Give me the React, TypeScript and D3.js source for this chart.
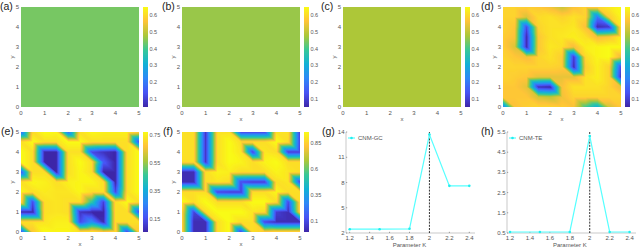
import React, { useRef, useEffect } from "react";
import * as d3 from "d3";

// parula, 8 evenly spaced stops
const parulaStops = [
  [0.2422, 0.1504, 0.6603],
  [0.281, 0.3228, 0.9579],
  [0.1786, 0.5289, 0.9682],
  [0.0689, 0.6948, 0.8394],
  [0.2161, 0.7843, 0.5923],
  [0.672, 0.7793, 0.2227],
  [0.997, 0.7659, 0.2199],
  [0.9769, 0.9839, 0.0805],
].map((c) => d3.rgb(c[0] * 255, c[1] * 255, c[2] * 255));
const parula = d3.piecewise(d3.interpolateRgb, parulaStops);

const gridTicks = [0, 1, 2, 3, 4, 5];

// panels (a)-(c) are flat
const flatA = [[0.44]];
const flatB = [[0.465]];
const flatC = [[0.48]];

// node values on the 0.5 grid, first row is y=5, last row is y=0
const gridD = [
  [0.59, 0.59, 0.58, 0.57, 0.55, 0.51, 0.56, 0.59, 0.59, 0.62, 0.65],
  [0.59, 0.59, 0.53, 0.6, 0.61, 0.59, 0.61, 0.59, 0.2, 0.58, 0.64],
  [0.59, 0.57, 0.12, 0.59, 0.61, 0.61, 0.62, 0.56, 0.06, 0.09, 0.62],
  [0.58, 0.56, 0.06, 0.57, 0.61, 0.62, 0.63, 0.61, 0.55, 0.57, 0.63],
  [0.58, 0.53, 0.06, 0.57, 0.62, 0.61, 0.55, 0.63, 0.64, 0.65, 0.65],
  [0.59, 0.57, 0.55, 0.59, 0.61, 0.58, 0.09, 0.6, 0.64, 0.65, 0.54],
  [0.59, 0.59, 0.59, 0.59, 0.59, 0.58, 0.06, 0.58, 0.63, 0.59, 0.11],
  [0.59, 0.58, 0.57, 0.54, 0.54, 0.54, 0.54, 0.61, 0.63, 0.59, 0.06],
  [0.57, 0.57, 0.54, 0.07, 0.05, 0.56, 0.61, 0.61, 0.61, 0.59, 0.54],
  [0.57, 0.57, 0.57, 0.52, 0.5, 0.55, 0.59, 0.59, 0.59, 0.59, 0.59],
  [0.2, 0.56, 0.58, 0.59, 0.59, 0.58, 0.56, 0.4, 0.3, 0.52, 0.57],
];
const gridE = [
  [0.2, 0.71, 0.77, 0.76, 0.2, 0.72, 0.76, 0.75, 0.75, 0.75, 0.7],
  [0.72, 0.77, 0.72, 0.72, 0.77, 0.77, 0.72, 0.72, 0.72, 0.72, 0.15],
  [0.77, 0.72, 0.06, 0.06, 0.72, 0.72, 0.14, 0.09, 0.06, 0.72, 0.77],
  [0.77, 0.72, 0.06, 0.06, 0.72, 0.77, 0.72, 0.18, 0.06, 0.72, 0.77],
  [0.16, 0.72, 0.72, 0.06, 0.72, 0.76, 0.72, 0.06, 0.06, 0.72, 0.77],
  [0.72, 0.76, 0.75, 0.72, 0.75, 0.76, 0.76, 0.72, 0.06, 0.72, 0.77],
  [0.76, 0.72, 0.74, 0.73, 0.73, 0.76, 0.72, 0.72, 0.14, 0.72, 0.77],
  [0.72, 0.14, 0.72, 0.73, 0.72, 0.72, 0.45, 0.12, 0.72, 0.77, 0.72],
  [0.07, 0.06, 0.72, 0.73, 0.72, 0.09, 0.06, 0.06, 0.72, 0.72, 0.14],
  [0.72, 0.72, 0.73, 0.75, 0.75, 0.14, 0.28, 0.07, 0.72, 0.72, 0.72],
  [0.14, 0.68, 0.77, 0.76, 0.76, 0.72, 0.74, 0.68, 0.73, 0.14, 0.68],
];
const gridF = [
  [0.89, 0.88, 0.05, 0.88, 0.89, 0.09, 0.09, 0.09, 0.89, 0.89, 0.07],
  [0.89, 0.88, 0.05, 0.88, 0.95, 0.88, 0.88, 0.88, 0.95, 0.88, 0.09],
  [0.89, 0.88, 0.05, 0.88, 0.95, 0.9, 0.09, 0.9, 0.88, 0.07, 0.07],
  [0.88, 0.88, 0.05, 0.88, 0.95, 0.93, 0.88, 0.93, 0.95, 0.88, 0.88],
  [0.02, 0.02, 0.88, 0.93, 0.92, 0.88, 0.88, 0.88, 0.93, 0.9, 0.88],
  [0.02, 0.02, 0.88, 0.9, 0.88, 0.1, 0.07, 0.07, 0.88, 0.9, 0.09],
  [0.88, 0.88, 0.88, 0.09, 0.07, 0.07, 0.88, 0.88, 0.94, 0.88, 0.88],
  [0.95, 0.88, 0.95, 0.88, 0.88, 0.88, 0.95, 0.95, 0.88, 0.1, 0.88],
  [0.88, 0.09, 0.88, 0.95, 0.95, 0.95, 0.9, 0.88, 0.07, 0.02, 0.88],
  [0.88, 0.02, 0.02, 0.88, 0.95, 0.88, 0.88, 0.09, 0.02, 0.02, 0.02],
  [0.88, 0.02, 0.02, 0.88, 0.95, 0.09, 0.88, 0.84, 0.88, 0.88, 0.88],
];

const paramK = [1.2, 1.5, 1.8, 2, 2.2, 2.4];
const gcValues = [2.45, 2.45, 2.5, 13.7, 7.6, 7.6];
const teValues = [0.55, 0.55, 0.55, 5.3, 0.55, 0.55];
const kTicks = [1.2, 1.4, 1.6, 1.8, 2, 2.2, 2.4];
const gcTicks = [2, 5, 8, 11, 14];
const teTicks = [0.5, 1.5, 2.5, 3.5, 4.5, 5.5];

const font = "'Liberation Sans', Arial, sans-serif";

// surface shading: every cell is split along its NW-SE diagonal, linear inside each triangle
function sampleGrid(grid: number[][], x: number, y: number) {
  const n = grid.length - 1;
  if (n === 0) return grid[0][0];
  const gx = (x / 5) * n;
  const gy = (y / 5) * n;
  const i = Math.min(Math.floor(gx), n - 1);
  const j = Math.min(Math.floor(gy), n - 1);
  const u = gx - i;
  const v = gy - j;
  const z00 = grid[n - j][i];
  const z10 = grid[n - j][i + 1];
  const z01 = grid[n - j - 1][i];
  const z11 = grid[n - j - 1][i + 1];
  if (u + v <= 1) return z00 + u * (z10 - z00) + v * (z01 - z00);
  return z11 + (1 - u) * (z01 - z11) + (1 - v) * (z10 - z11);
}

function addText(g: any, x: number, y: number, s: string, size = 6, anchor = "middle") {
  return g
    .append("text")
    .attr("x", x)
    .attr("y", y)
    .attr("text-anchor", anchor)
    .attr("font-family", font)
    .attr("font-size", size)
    .attr("fill", "#555")
    .text(s);
}

function drawHeat(svg: any, cfg: any) {
  const { left, top, grid, domain, barTicks, label, labelX } = cfg;
  const w = 118;
  const h = 100;
  const x = d3.scaleLinear().domain([0, 5]).range([left, left + w]);
  const y = d3.scaleLinear().domain([0, 5]).range([top + h, top]);
  const color = d3.scaleLinear().domain(domain).range([0, 1]).clamp(true);

  const cells = svg.append("g").attr("shape-rendering", "crispEdges").attr("filter", "url(#soft)");
  if (grid.length === 1) {
    cells
      .append("rect")
      .attr("x", x(0))
      .attr("y", y(5))
      .attr("width", w)
      .attr("height", h)
      .attr("fill", parula(color(grid[0][0])));
  } else {
    for (let px = 0; px < w; px++) {
      for (let py = 0; py < h; py++) {
        const v = sampleGrid(grid, x.invert(left + px + 0.5), y.invert(top + py + 0.5));
        cells
          .append("rect")
          .attr("x", left + px)
          .attr("y", top + py)
          .attr("width", 1)
          .attr("height", 1)
          .attr("fill", parula(color(v)));
      }
    }
  }

  gridTicks.forEach((t) => {
    addText(svg, x(t), top + h + 8, String(t));
    addText(svg, left - 2, y(t) + 2, String(t), 6, "end");
  });
  addText(svg, x(2.5), top + h + 14, "x");
  svg
    .append("text")
    .attr("transform", `translate(${left - 7},${y(2.5)}) rotate(-90)`)
    .attr("text-anchor", "middle")
    .attr("font-family", font)
    .attr("font-size", 6)
    .attr("fill", "#555")
    .text("y");

  // colorbar
  const barX = left + w + 4;
  const barScale = d3.scaleLinear().domain(domain).range([top + h, top]);
  const bar = svg.append("g").attr("shape-rendering", "crispEdges");
  for (let py = 0; py < h; py++) {
    bar
      .append("rect")
      .attr("x", barX)
      .attr("y", top + py)
      .attr("width", 5)
      .attr("height", 1)
      .attr("fill", parula(1 - (py + 0.5) / h));
  }
  barTicks.forEach((t: number) => {
    addText(svg, barX + 6.5, barScale(t) + 2, String(t), 5.5, "start");
  });

  addText(svg, labelX, top + 2.5, label, 10.5, "start").attr("fill", "#222");
}

function drawLine(svg: any, cfg: any) {
  const { left, right, kLeft, top, bottom, values, ticks, domain, name, label, labelX } = cfg;
  const x = d3.scaleLinear().domain([1.2, 2.4]).range([kLeft, kLeft + 119.6]);
  const y = d3.scaleLinear().domain(domain).range([bottom, top]);

  const axes = svg.append("g").attr("stroke", "#bbb").attr("stroke-width", 0.8);
  axes.append("line").attr("x1", left).attr("x2", right).attr("y1", bottom).attr("y2", bottom);
  axes.append("line").attr("x1", left).attr("x2", left).attr("y1", top).attr("y2", bottom);

  kTicks.forEach((t) => {
    axes.append("line").attr("x1", x(t)).attr("x2", x(t)).attr("y1", bottom).attr("y2", bottom - 1.2).attr("stroke", "#888");
    addText(svg, x(t), bottom + 7, String(t));
  });
  ticks.forEach((t: number) => {
    axes.append("line").attr("x1", left).attr("x2", left + 1.2).attr("y1", y(t)).attr("y2", y(t)).attr("stroke", "#888");
    addText(svg, left - 1.5, y(t) + 2, String(t), 6, "end");
  });
  addText(svg, x(1.8), bottom + 13.5, "Parameter K");

  svg
    .append("line")
    .attr("x1", x(2))
    .attr("x2", x(2))
    .attr("y1", top)
    .attr("y2", bottom)
    .attr("stroke", "#333")
    .attr("stroke-width", 1)
    .attr("stroke-dasharray", "2,1.2");

  const line = d3
    .line<number>()
    .x((_, i) => x(paramK[i]))
    .y((d) => y(d));
  svg
    .append("path")
    .attr("d", line(values))
    .attr("fill", "none")
    .attr("stroke", "#5ff")
    .attr("stroke-width", 1.2);
  svg
    .append("g")
    .selectAll("circle")
    .data(values)
    .join("circle")
    .attr("cx", (_: number, i: number) => x(paramK[i]))
    .attr("cy", (d: number) => y(d))
    .attr("r", 1.3)
    .attr("fill", "#2ee");

  // legend
  svg.append("line").attr("x1", left + 2).attr("x2", left + 9).attr("y1", top + 6).attr("y2", top + 6).attr("stroke", "#5ff").attr("stroke-width", 1.2);
  svg.append("circle").attr("cx", left + 5.5).attr("cy", top + 6).attr("r", 1.3).attr("fill", "#2ee");
  addText(svg, left + 12, top + 8, name, 6, "start");

  addText(svg, labelX, top + 2.5, label, 10.5, "start").attr("fill", "#222");
}

const App = () => {
  const ref = useRef<SVGSVGElement>(null);

  useEffect(() => {
    const svg = d3.select(ref.current);
    svg.selectAll("*").remove();
    svg
      .append("defs")
      .append("filter")
      .attr("id", "soft")
      .append("feGaussianBlur")
      .attr("stdDeviation", 0.35);

    const smallTicks = [0.1, 0.2, 0.3, 0.4, 0.5, 0.6];
    drawHeat(svg, { left: 21, top: 7, grid: flatA, domain: [0.05, 0.65], barTicks: smallTicks, label: "(a)", labelX: 0 });
    drawHeat(svg, { left: 182, top: 7, grid: flatB, domain: [0.05, 0.65], barTicks: smallTicks, label: "(b)", labelX: 162 });
    drawHeat(svg, { left: 343, top: 7, grid: flatC, domain: [0.05, 0.65], barTicks: smallTicks, label: "(c)", labelX: 321 });
    drawHeat(svg, { left: 503, top: 7, grid: gridD, domain: [0.05, 0.65], barTicks: smallTicks, label: "(d)", labelX: 481 });
    drawHeat(svg, { left: 21, top: 132, grid: gridE, domain: [0.06, 0.77], barTicks: [0.15, 0.35, 0.55, 0.75], label: "(e)", labelX: 1 });
    drawHeat(svg, { left: 182, top: 132, grid: gridF, domain: [0, 0.95], barTicks: [0.1, 0.35, 0.6, 0.85], label: "(f)", labelX: 163 });

    drawLine(svg, { left: 346, right: 475, kLeft: 349.7, top: 132, bottom: 233, values: gcValues, ticks: gcTicks, domain: [2, 14], name: "CNM-GC", label: "(g)", labelX: 322 });
    drawLine(svg, { left: 507, right: 636, kLeft: 510, top: 132, bottom: 233, values: teValues, ticks: teTicks, domain: [0.5, 5.5], name: "CNM-TE", label: "(h)", labelX: 481 });
  }, []);

  return (
    <svg
      ref={ref}
      width={640}
      height={248}
      style={{ position: "absolute", left: 0, top: 0, background: "#fff" }}
    />
  );
};

export default App;
